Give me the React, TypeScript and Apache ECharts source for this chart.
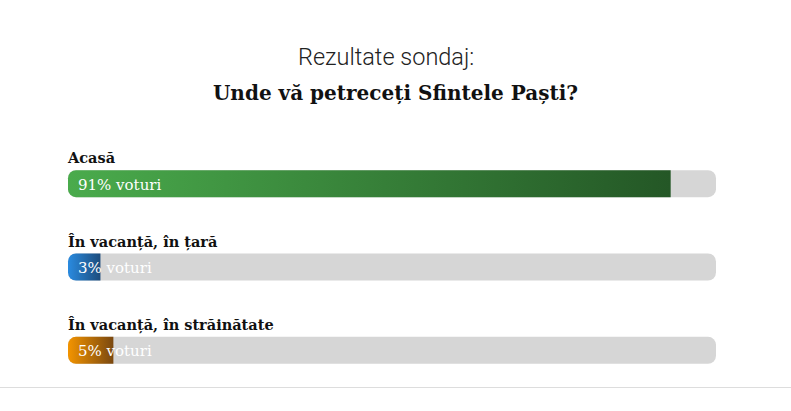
import React, { useEffect, useRef } from "react";
import * as echarts from "echarts";

const categories = ["Acasă", "În vacanță, în țară", "În vacanță, în străinătate"];
const percents = [91, 3, 5];
const labels = ["91% voturi", "3% voturi", "5% voturi"];
const gradients = [
  ["#4aab4c", "#245726"],
  ["#2a8be0", "#1d4c7c"],
  ["#f39400", "#7a4810"],
];

const SERIF = "'Roboto Slab', 'DejaVu Serif', serif";

const App: React.FC = () => {
  const chartRef = useRef<HTMLDivElement>(null);

  useEffect(() => {
    document.body.style.margin = "0";
    const chart = echarts.init(chartRef.current!, null, { renderer: "svg" });

    const option = {
      animation: false,
      backgroundColor: "#ffffff",
      title: [
        {
          text: "Rezultate sondaj:",
          left: 293,
          top: 40,
          textStyle: {
            fontFamily: "Roboto",
            fontWeight: 300,
            fontSize: 23.5,
            color: "#222",
          },
        },
        {
          text: "Unde vă petreceți Sfintele Paști?",
          left: "center",
          top: 78,
          textStyle: {
            fontFamily: SERIF,
            fontWeight: "bold",
            fontSize: 20,
            color: "#111",
          },
        },
      ],
      grid: { left: 68, right: 75, top: 142, bottom: 19 },
      xAxis: { type: "value", min: 0, max: 100, show: false },
      yAxis: { type: "category", data: categories, inverse: true, show: false },
      graphic: [
        {
          type: "line",
          shape: { x1: 0, y1: 387.5, x2: 791, y2: 387.5 },
          style: { stroke: "#dddddd", lineWidth: 1 },
        },
      ],
      series: [
        {
          type: "custom",
          data: percents.map((v, i) => [v, i]),
          renderItem: (params: any, api: any) => {
            const idx = api.value(1);
            const v = api.value(0);
            const start = api.coord([0, idx]);
            const end = api.coord([v, idx]);
            const full = api.coord([100, idx]);
            const cy = start[1];
            const h = 27;
            const [c1, c2] = gradients[idx];
            return {
              type: "group",
              children: [
                {
                  type: "rect",
                  shape: { x: start[0], y: cy - h / 2, width: full[0] - start[0], height: h, r: 8 },
                  style: { fill: "#d6d6d6" },
                },
                {
                  type: "rect",
                  shape: { x: start[0], y: cy - h / 2, width: end[0] - start[0] + 13, height: h, r: [8, 0, 0, 8] },
                  style: {
                    fill: new echarts.graphic.LinearGradient(0, 0, 1, 0, [
                      { offset: 0, color: c1 },
                      { offset: 1, color: c2 },
                    ]),
                  },
                },
                {
                  type: "text",
                  style: {
                    text: labels[idx],
                    x: start[0] + 10,
                    y: cy + 1,
                    verticalAlign: "middle",
                    fill: "#ffffff",
                    font: `15px ${SERIF}`,
                  },
                },
                {
                  type: "text",
                  style: {
                    text: categories[idx],
                    x: start[0],
                    y: cy - 26,
                    verticalAlign: "middle",
                    fill: "#111",
                    font: `bold 14.5px ${SERIF}`,
                  },
                },
              ],
            };
          },
        },
      ],
    };

    chart.setOption(option as any);
    return () => {
      chart.dispose();
    };
  }, []);

  return <div ref={chartRef} style={{ width: "791px", height: "411px" }} />;
};

export default App;
